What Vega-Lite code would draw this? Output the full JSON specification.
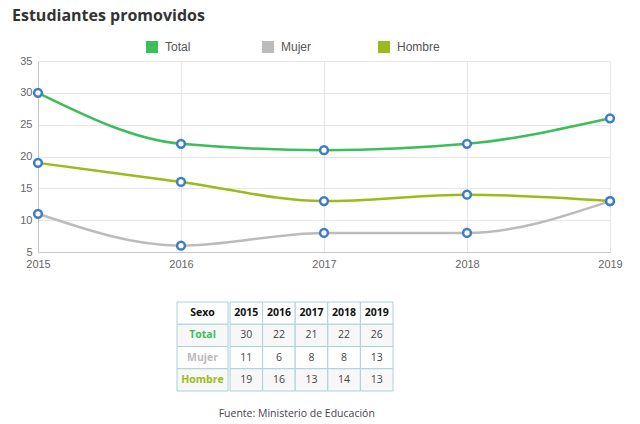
{
"$schema":"https://vega.github.io/schema/vega-lite/v6.json",
"background":"white",
"padding":{"left":12,"top":8,"right":10,"bottom":4},
"title":{"text":"Estudiantes promovidos","anchor":"start","font":"Open Sans","fontSize":16,"fontWeight":"bold","color":"#333333","offset":17},
"datasets":{
 "series":[
  {"year":2015,"serie":"Total","value":30},{"year":2016,"serie":"Total","value":22},{"year":2017,"serie":"Total","value":21},{"year":2018,"serie":"Total","value":22},{"year":2019,"serie":"Total","value":26},
  {"year":2015,"serie":"Mujer","value":11},{"year":2016,"serie":"Mujer","value":6},{"year":2017,"serie":"Mujer","value":8},{"year":2018,"serie":"Mujer","value":8},{"year":2019,"serie":"Mujer","value":13},
  {"year":2015,"serie":"Hombre","value":19},{"year":2016,"serie":"Hombre","value":16},{"year":2017,"serie":"Hombre","value":13},{"year":2018,"serie":"Hombre","value":14},{"year":2019,"serie":"Hombre","value":13}
 ],
 "years":[{"year":2015,"serie":"Sexo"},{"year":2016,"serie":"Sexo"},{"year":2017,"serie":"Sexo"},{"year":2018,"serie":"Sexo"},{"year":2019,"serie":"Sexo"}],
 "labels":[{"serie":"Sexo"},{"serie":"Total"},{"serie":"Mujer"},{"serie":"Hombre"}]
},
"config":{"view":{"stroke":null}},
"spacing":32,
"vconcat":[
 {
  "width":572,"height":191,
  "data":{"name":"series"},
  "encoding":{
   "x":{"field":"year","type":"ordinal","scale":{"type":"point","padding":0},"axis":{"title":null,"labelAngle":0,"grid":true,"gridColor":"#e6e6e6","ticks":false,"domainColor":"#c8c8c8","labelColor":"#666666","labelFont":"Liberation Sans","labelFontSize":11,"labelPadding":6}},
   "y":{"field":"value","type":"quantitative","scale":{"domain":[5,35],"nice":false,"zero":false},"axis":{"title":null,"values":[5,10,15,20,25,30,35],"grid":true,"gridColor":"#e6e6e6","ticks":false,"domainColor":"#c8c8c8","labelColor":"#666666","labelFont":"Liberation Sans","labelFontSize":11,"labelPadding":6,"minExtent":26,"maxExtent":26}}
  },
  "layer":[
   {"mark":{"type":"line","interpolate":"monotone","strokeWidth":2.5},
    "encoding":{"color":{"field":"serie","type":"nominal","scale":{"domain":["Total","Mujer","Hombre"],"range":["#3cbf5a","#bdbaba","#9bbb1c"]},
     "legend":{"orient":"none","legendX":108,"legendY":-20,"direction":"horizontal","columns":3,"gridAlign":"all","columnPadding":45,"symbolType":"square","symbolSize":36,"symbolStrokeWidth":6,"symbolOpacity":1,"labelFont":"Liberation Sans","labelFontSize":12,"labelColor":"#555555","labelOffset":7,"title":null}}}},
   {"mark":{"type":"point","filled":true,"color":"#ffffff","stroke":"#3d7cc6","strokeWidth":2.5,"size":60,"opacity":1},"encoding":{"detail":{"field":"serie"}}}
  ]
 },
 {
  "spacing":0,
  "title":{"text":"Fuente: Ministerio de Educación","orient":"bottom","anchor":"middle","dx":81,"offset":17,"font":"Open Sans","fontSize":10.5,"fontWeight":"normal","color":"#4a4050"},
  "hconcat":[
   {
    "width":138,"height":89,
    "data":{"values":[{}]},
    "mark":{"type":"text","text":""}
   },
   {
    "width":51,"height":89,
    "data":{"name":"labels"},
    "encoding":{
     "y":{"field":"serie","type":"nominal","sort":["Sexo","Total","Mujer","Hombre"],"scale":{"domain":["Sexo","Total","Mujer","Hombre"],"paddingInner":0,"paddingOuter":0},"axis":null}
    },
    "layer":[
     {"mark":{"type":"rect","stroke":"#a9d2d8","strokeWidth":1},"encoding":{"fill":{"condition":{"test":"datum.serie==='Total'||datum.serie==='Hombre'","value":"#f7f7f7"},"value":"#ffffff"}}},
     {"mark":{"type":"text","font":"Open Sans","fontSize":10.5,"fontWeight":"bold"},"encoding":{"text":{"field":"serie","type":"nominal"},"color":{"condition":[{"test":"datum.serie==='Total'","value":"#3cbf5a"},{"test":"datum.serie==='Mujer'","value":"#bdbaba"},{"test":"datum.serie==='Hombre'","value":"#9bbb1c"}],"value":"#111111"}}}
    ]
   },
   {
    "width":163,"height":89,
    "encoding":{
     "x":{"field":"year","type":"ordinal","scale":{"paddingInner":0,"paddingOuter":0},"axis":null},
     "y":{"field":"serie","type":"nominal","sort":["Sexo","Total","Mujer","Hombre"],"scale":{"domain":["Sexo","Total","Mujer","Hombre"],"paddingInner":0,"paddingOuter":0},"axis":null}
    },
    "layer":[
     {"data":{"name":"years"},"mark":{"type":"rect","stroke":"#a9d2d8","strokeWidth":1,"fill":"#ffffff"}},
     {"data":{"name":"years"},"mark":{"type":"text","font":"Open Sans","fontSize":10.5,"fontWeight":"bold","color":"#111111"},"encoding":{"text":{"field":"year","type":"nominal"}}},
     {"data":{"name":"series"},"mark":{"type":"rect","stroke":"#a9d2d8","strokeWidth":1},"encoding":{"fill":{"condition":{"test":"datum.serie==='Total'||datum.serie==='Hombre'","value":"#f7f7f7"},"value":"#ffffff"}}},
     {"data":{"name":"series"},"mark":{"type":"text","font":"Open Sans","fontSize":10.5,"color":"#444444"},"encoding":{"text":{"field":"value","type":"quantitative"}}}
    ]
   }
  ]
 }
]
}
